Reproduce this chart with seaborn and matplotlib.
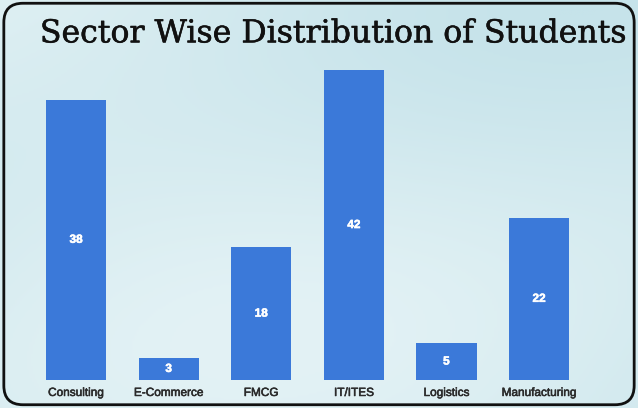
import numpy as np
import pandas as pd
import seaborn as sns
import matplotlib
matplotlib.use("Agg")
import matplotlib.pyplot as plt
import matplotlib.patheffects as pe
from matplotlib.patches import FancyBboxPatch
from matplotlib.colors import LinearSegmentedColormap

sectors = ["Consulting", "E-Commerce", "FMCG", "IT/ITES", "Logistics", "Manufacturing"]
students = [38, 3, 18, 42, 5, 22]

sns.set_theme(style="white")
plt.rcParams['font.family'] = ['Liberation Sans', 'DejaVu Sans']

fig = plt.figure(figsize=(6.38, 4.08), dpi=100)
fig.patch.set_facecolor("#d6ecf1")

# soft background gradient
bg = fig.add_axes([0, 0, 1, 1], zorder=-10)
yy, xx = np.mgrid[0:1:200j, 0:1:300j]
grad = 0.5 + 0.25 * np.sin(3 * xx + 2 * yy) + 0.2 * np.cos(5 * yy - 2 * xx)
cmap = LinearSegmentedColormap.from_list("bgc", ["#c6e3ea", "#e3f2f5"])
bg.imshow(grad, cmap=cmap, aspect="auto", extent=[0, 1, 0, 1], origin="lower")
bg.set_axis_off()

border = FancyBboxPatch((0.006, 0.008), 0.988, 0.984, boxstyle="round,pad=0,rounding_size=0.03",
                        transform=fig.transFigure, fill=False, edgecolor="#111111", linewidth=2.0,
                        zorder=5, mutation_aspect=638/408)
fig.patches.append(border)

ax = fig.add_axes([0.0466, 0.0686, 0.8708, 0.8139])
ax.patch.set_alpha(0)
df = pd.DataFrame({"sector": sectors, "students": students})
sns.barplot(data=df, x="sector", y="students", color="#3b79d9", saturation=1, width=0.65,
            linewidth=0, ax=ax)
ax.set_ylim(0, 45)
ax.set_xlim(-0.5, 5.5)
for p, v in zip(ax.patches, students):
    ax.text(p.get_x() + p.get_width() / 2, v / 2, str(v), ha="center", va="center",
            color="white", fontsize=8.5, fontweight="bold",
            path_effects=[pe.withStroke(linewidth=0.4, foreground="white")])
ax.set_xlabel("")
ax.set_ylabel("")
ax.set_yticks([])
ax.tick_params(axis="x", length=0, pad=5, labelsize=8.5, labelcolor="#2a2a2a")
for lbl in ax.get_xticklabels():
    lbl.set_path_effects([pe.withStroke(linewidth=0.4, foreground="#2a2a2a")])
for s in ax.spines.values():
    s.set_visible(False)

fig.text(0.521, 0.917, "Sector Wise Distribution of Students", ha="center", va="center",
         fontsize=22.7, family=["DejaVu Serif"], color="#111111",
         path_effects=[pe.withStroke(linewidth=0.4, foreground="#111111")])

fig.savefig("out.png", dpi=100)
